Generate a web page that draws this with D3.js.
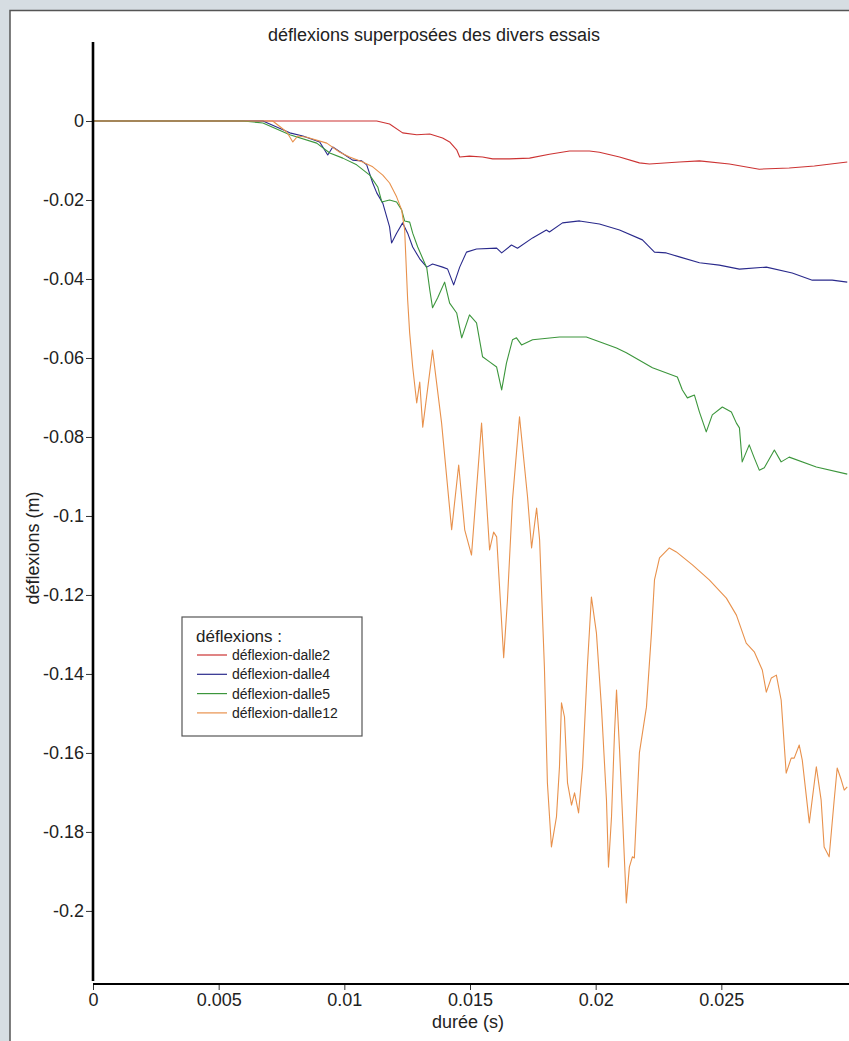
<!DOCTYPE html>
<html>
<head>
<meta charset="utf-8">
<script src="https://cdn.jsdelivr.net/npm/d3@7"></script>
<style>
	html, body { margin: 0; padding: 0; background: #d6dde2; }
	svg { display: block; }
	text { font-family: "Liberation Sans", Arial, sans-serif; fill: #222; }
</style>
</head>
<body>
<div id="chart"></div>
<script>
var dalle2 = [[0,0],[0.01129,0],[0.0118,-0.00076],[0.01232,-0.0030],[0.01288,-0.0035],[0.0134,-0.0033],
	[0.01391,-0.0043],[0.01419,-0.0053],[0.01447,-0.0073],[0.01459,-0.0091],[0.01498,-0.0089],[0.0155,-0.0091],
	[0.0159,-0.0096],[0.01657,-0.0096],[0.01737,-0.0094],[0.01816,-0.0084],[0.01896,-0.0076],[0.01975,-0.0076],
	[0.02015,-0.0079],[0.02095,-0.0091],[0.02174,-0.0106],[0.02214,-0.0109],[0.02333,-0.0104],[0.02413,-0.0101],
	[0.02532,-0.0109],[0.02651,-0.0122],[0.0277,-0.0119],[0.0287,-0.0114],[0.03001,-0.0104]];

var dalle4 = [[0,0],[0.00624,0],[0.00676,0],[0.00783,-0.0030],[0.00835,-0.0038],[0.00902,-0.0053],[0.00934,-0.0086],
	[0.00954,-0.0066],[0.01033,-0.0099],[0.01069,-0.0101],[0.01089,-0.0111],[0.01113,-0.0157],[0.01129,-0.0182],
	[0.01153,-0.0208],[0.0118,-0.0268],[0.01188,-0.0309],[0.01208,-0.0284],[0.01232,-0.0258],[0.01252,-0.0284],
	[0.01272,-0.0319],[0.013,-0.0349],[0.01328,-0.0370],[0.01351,-0.0362],[0.01391,-0.0370],[0.01411,-0.0375],
	[0.01435,-0.0415],[0.01459,-0.0370],[0.01486,-0.0332],[0.01526,-0.0324],[0.01606,-0.0322],[0.01626,-0.0334],
	[0.01665,-0.0314],[0.01689,-0.0322],[0.01749,-0.0296],[0.01804,-0.0276],[0.01816,-0.0281],[0.01868,-0.0258],
	[0.01936,-0.0253],[0.02015,-0.0261],[0.02095,-0.0276],[0.02186,-0.0301],[0.02234,-0.0332],[0.02281,-0.0334],
	[0.02333,-0.0344],[0.02413,-0.0359],[0.02492,-0.0365],[0.02572,-0.0375],[0.02679,-0.0370],[0.02782,-0.0385],
	[0.02862,-0.0403],[0.02941,-0.0403],[0.03001,-0.0408]];

var dalle5 = [[0,0],[0.00596,0],[0.00676,-0.0005],[0.00783,-0.0035],[0.0089,-0.0056],[0.00942,-0.0081],[0.00994,-0.0094],
	[0.01049,-0.0111],[0.01101,-0.0137],[0.01133,-0.0167],[0.01149,-0.0205],[0.0118,-0.0200],[0.01208,-0.0205],
	[0.01228,-0.0225],[0.0124,-0.0253],[0.0126,-0.0256],[0.01272,-0.0284],[0.01292,-0.0319],[0.01328,-0.0372],
	[0.0134,-0.0428],[0.01351,-0.0473],[0.01371,-0.0448],[0.01399,-0.0408],[0.01419,-0.0461],[0.01447,-0.0486],
	[0.01467,-0.0549],[0.01498,-0.0491],[0.01526,-0.0511],[0.0155,-0.0597],[0.01578,-0.0610],[0.01606,-0.0623],
	[0.01626,-0.0681],[0.01645,-0.0613],[0.01669,-0.0554],[0.01685,-0.0549],[0.01705,-0.0567],[0.01749,-0.0554],
	[0.01856,-0.0547],[0.01963,-0.0547],[0.02015,-0.0559],[0.02083,-0.0575],[0.02122,-0.0587],[0.02226,-0.0625],
	[0.02325,-0.0648],[0.02345,-0.0681],[0.02365,-0.0701],[0.02393,-0.0694],[0.02413,-0.0737],[0.0244,-0.0787],
	[0.02464,-0.0744],[0.02504,-0.0724],[0.0254,-0.0737],[0.0256,-0.0765],[0.02572,-0.0777],[0.02583,-0.0863],
	[0.02611,-0.0820],[0.02631,-0.0853],[0.02651,-0.0884],[0.02671,-0.0878],[0.02711,-0.0833],[0.02738,-0.0863],
	[0.0277,-0.0851],[0.02878,-0.0876],[0.03001,-0.0894]];

var dalle12 = [[0,0],[0.00715,0],[0.00771,-0.0028],[0.00795,-0.0053],[0.00815,-0.0038],[0.00851,-0.0041],[0.0093,-0.0056],
	[0.00982,-0.0079],[0.01021,-0.0091],[0.01073,-0.0104],[0.01113,-0.0116],[0.01153,-0.0137],[0.0118,-0.0157],
	[0.01208,-0.0192],[0.01228,-0.0225],[0.0124,-0.0276],[0.01252,-0.0453],[0.0126,-0.0537],[0.01272,-0.0623],
	[0.01288,-0.0714],[0.013,-0.0661],[0.01312,-0.0775],[0.01351,-0.0580],[0.01387,-0.0765],[0.01427,-0.1035],
	[0.01455,-0.0871],[0.01479,-0.1035],[0.01506,-0.1099],[0.01546,-0.0765],[0.01578,-0.1086],[0.01594,-0.1041],
	[0.01606,-0.1053],[0.01634,-0.1359],[0.01649,-0.1213],[0.01669,-0.0960],[0.01697,-0.0749],[0.01729,-0.0952],
	[0.01745,-0.1081],[0.01765,-0.0980],[0.01777,-0.1061],[0.01796,-0.1382],[0.01808,-0.1676],[0.01824,-0.1838],
	[0.01844,-0.1762],[0.01856,-0.1635],[0.01864,-0.1473],[0.01876,-0.1509],[0.01888,-0.1676],[0.01904,-0.1732],
	[0.01916,-0.1701],[0.01932,-0.1752],[0.01948,-0.1635],[0.01967,-0.1382],[0.01983,-0.1205],[0.02003,-0.1296],
	[0.02023,-0.1484],[0.02043,-0.1719],[0.02051,-0.1889],[0.02063,-0.1762],[0.02075,-0.1549],[0.02083,-0.1441],
	[0.02095,-0.1592],[0.02107,-0.1762],[0.02122,-0.1980],[0.02134,-0.1889],[0.02146,-0.1863],[0.02154,-0.1866],
	[0.02174,-0.1600],[0.02202,-0.1484],[0.02222,-0.1296],[0.02234,-0.1162],[0.02254,-0.1106],[0.02293,-0.1081],
	[0.02321,-0.1091],[0.02385,-0.1124],[0.02452,-0.1162],[0.0252,-0.1208],[0.0256,-0.1251],[0.02599,-0.1322],
	[0.02631,-0.1344],[0.02663,-0.1390],[0.02679,-0.1446],[0.02699,-0.1410],[0.02719,-0.1403],[0.02738,-0.1466],
	[0.02758,-0.1651],[0.02778,-0.1613],[0.0279,-0.1613],[0.0281,-0.1580],[0.02822,-0.1618],[0.0285,-0.1777],
	[0.02878,-0.1635],[0.02897,-0.1719],[0.02909,-0.1838],[0.02929,-0.1863],[0.02949,-0.1719],[0.02961,-0.1638],
	[0.02977,-0.1668],[0.02989,-0.1694],[0.03001,-0.1686]];

var seriesNames = ['déflexion-dalle2', 'déflexion-dalle4', 'déflexion-dalle5', 'déflexion-dalle12'];
var seriesData = [dalle2, dalle4, dalle5, dalle12];
var xTicks = [0, 0.005, 0.01, 0.015, 0.02, 0.025];
var yTicks = [0, -0.02, -0.04, -0.06, -0.08, -0.1, -0.12, -0.14, -0.16, -0.18, -0.2];

var width = 849, height = 1041;
var colors = ['#cc3333', '#2a2a8c', '#3c963c', '#e8914c'];

// scales
var x = d3.scaleLinear().domain([0, 0.03]).range([93, 847]);
var y = d3.scaleLinear().domain([-0.2185, 0.02]).range([984, 42]);

var svg = d3.select('#chart')
	.append('svg')
	.attr('width', width)
	.attr('height', height);

// window frame
svg.append('rect')
	.attr('x', 10).attr('y', 10.5)
	.attr('width', width).attr('height', height)
	.attr('fill', '#fff')
	.attr('stroke', '#555')
	.attr('stroke-width', 1.5);

// title
svg.append('text')
	.attr('x', 434).attr('y', 41)
	.attr('text-anchor', 'middle')
	.style('font-size', '18px')
	.text('déflexions superposées des divers essais');

// clip
svg.append('clipPath').attr('id', 'plot-clip')
	.append('rect')
	.attr('x', 93).attr('y', 42)
	.attr('width', width - 93).attr('height', 942);

// lines
var line = d3.line()
	.x(function (d) { return x(d[0]); })
	.y(function (d) { return y(d[1]); });

svg.append('g')
	.attr('clip-path', 'url(#plot-clip)')
	.selectAll('path')
	.data(seriesData)
	.enter()
	.append('path')
	.attr('d', line)
	.attr('fill', 'none')
	.attr('stroke', function (d, i) { return colors[i]; })
	.attr('stroke-width', 1.1)
	.attr('stroke-linejoin', 'round');

// y axis
var yAxis = d3.axisLeft(y)
	.tickValues(yTicks)
	.tickSize(6)
	.tickPadding(2)
	.tickFormat(function (d) { return d === 0 ? '0' : String(+d.toFixed(3)); });

var gy = svg.append('g')
	.attr('transform', 'translate(92,0)')
	.call(yAxis);
gy.select('.domain').remove();
gy.selectAll('.tick line').attr('stroke', '#333');
gy.selectAll('.tick text')
	.style('font-size', '18px')
	.style('font-family', '"Liberation Sans", Arial, sans-serif')
	.attr('fill', '#222');

svg.append('line')
	.attr('x1', 93).attr('x2', 93)
	.attr('y1', 42).attr('y2', 981)
	.attr('stroke', '#000')
	.attr('stroke-width', 2.6);

// x axis
var xAxis = d3.axisBottom(x)
	.tickValues(xTicks)
	.tickSize(5)
	.tickPadding(3)
	.tickFormat(function (d) { return d === 0 ? '0' : String(+d.toFixed(4)); });

var gx = svg.append('g')
	.attr('transform', 'translate(0,985)')
	.call(xAxis);
gx.select('.domain').remove();
gx.selectAll('.tick line').attr('stroke', '#333');
gx.selectAll('.tick text')
	.style('font-size', '18px')
	.style('font-family', '"Liberation Sans", Arial, sans-serif')
	.attr('fill', '#222');

svg.append('line')
	.attr('x1', 93).attr('x2', width)
	.attr('y1', 984).attr('y2', 984)
	.attr('stroke', '#000')
	.attr('stroke-width', 2.2);

// axis labels
svg.append('text')
	.attr('x', 468).attr('y', 1028)
	.attr('text-anchor', 'middle')
	.style('font-size', '18px')
	.text('durée (s)');

svg.append('text')
	.attr('transform', 'translate(39,548) rotate(-90)')
	.attr('text-anchor', 'middle')
	.style('font-size', '18px')
	.text('déflexions (m)');

// legend
var legend = svg.append('g').attr('transform', 'translate(182,617)');
legend.append('rect')
	.attr('width', 180).attr('height', 119)
	.attr('fill', '#fff')
	.attr('stroke', '#555')
	.attr('stroke-width', 1.2);
legend.append('text')
	.attr('x', 14).attr('y', 25)
	.style('font-size', '17px')
	.text('déflexions :');

var items = legend.selectAll('g.item')
	.data(seriesNames)
	.enter()
	.append('g')
	.attr('class', 'item')
	.attr('transform', function (d, i) { return 'translate(0,' + (38 + i * 19.3) + ')'; });
items.append('line')
	.attr('x1', 15).attr('x2', 45)
	.attr('stroke', function (d, i) { return colors[i]; })
	.attr('stroke-width', 1.2);
items.append('text')
	.attr('x', 50).attr('y', 5)
	.style('font-size', '14px')
	.text(function (d) { return d; });
</script>
</body>
</html>
